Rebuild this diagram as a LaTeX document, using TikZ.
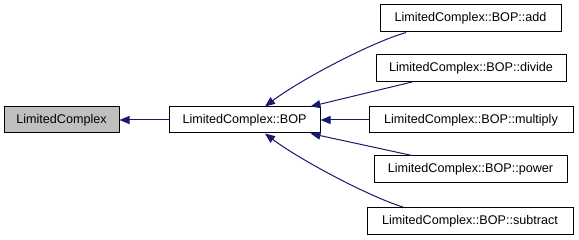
\documentclass[tikz,border=0pt]{standalone}
\usepackage{fontspec}
\setmainfont{Liberation Sans}
\usetikzlibrary{arrows.meta}
\definecolor{edgeblue}{HTML}{191970}
\definecolor{basefill}{HTML}{BFBFBF}
\tikzset{
  cls/.style={draw=black, line width=1pt, fill=white, minimum height=26pt,
    inner sep=0pt, font=\fontsize{12.6}{14}\selectfont},
  basecls/.style={cls, fill=basefill},
  inh/.style={draw=edgeblue, line width=1pt,
    {Triangle[length=10pt,width=8pt]}-}
}
\begin{document}
\begin{tikzpicture}[x=1pt,y=-1pt]
  \useasboundingbox[fill=white] (0,0) rectangle (579,240);
  % classes
  \node[basecls, minimum width=115pt] (lc)  at (61.5,120) {LimitedComplex};
  \node[cls, minimum width=151pt] (bop)     at (244.5,120) {LimitedComplex::BOP};
  \node[cls, minimum width=181pt, minimum height=27pt] (add) at (470.5,18.5) {LimitedComplex::BOP::add};
  \node[cls, minimum width=190pt, minimum height=27pt] (div) at (471,68) {LimitedComplex::BOP::divide};
  \node[cls, minimum width=204pt] (mul)     at (471,120) {LimitedComplex::BOP::multiply};
  \node[cls, minimum width=193pt, minimum height=27pt] (pow) at (470.5,169.5) {LimitedComplex::BOP::power};
  \node[cls, minimum width=206pt, minimum height=27pt] (sub) at (470,221) {LimitedComplex::BOP::subtract};
  % inheritance edges
  \draw[inh] (lc.east) -- (bop.west);
  \draw[inh] ([xshift=20.5pt]bop.north) .. controls (300,80) and (370,43) .. ([xshift=-64.5pt]add.south);
  \draw[inh] ([xshift=-10pt]bop.north east) -- ([xshift=-59pt]div.south);
  \draw[inh] (bop.east) -- (mul.west);
  \draw[inh] ([xshift=-10pt]bop.south east) -- ([xshift=-58.5pt]pow.north);
  \draw[inh] ([xshift=20.5pt]bop.south) .. controls (300,160) and (370,197) .. ([xshift=-67pt]sub.north);
\end{tikzpicture}
\end{document}
